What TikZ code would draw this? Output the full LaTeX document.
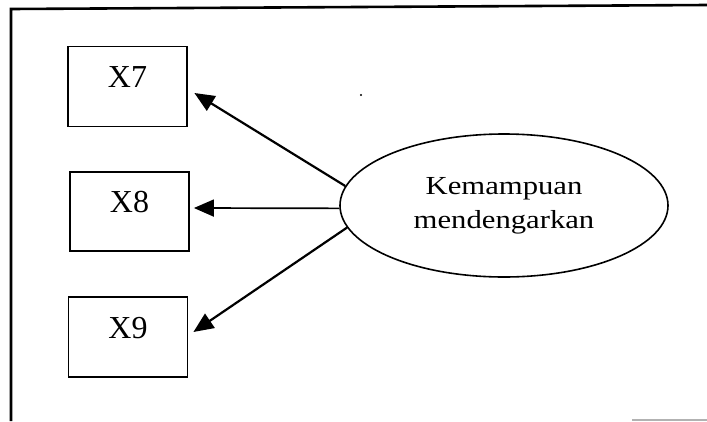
\documentclass[tikz,border=0pt]{standalone}
\usepackage{fontspec}
\setmainfont{Liberation Serif}
\usetikzlibrary{shapes.geometric,arrows.meta}

\tikzset{
  indicator/.style={draw, line width=1.8pt, minimum width=119pt, minimum height=80pt,
    inner sep=0pt, text height=21pt, text depth=19pt, font=\fontsize{32}{36}\selectfont},
  latent/.style={draw, ellipse, line width=1.6pt, minimum width=328pt, minimum height=143pt,
    inner sep=0pt, align=center, font=\fontsize{26}{34}\selectfont},
  loading/.style={line width=2.2pt, -{Triangle[length=20pt,width=17pt]}},
  frame/.style={line width=2.6pt},
}

\newcommand{\wide}[1]{\scalebox{1.18}[1]{#1}}

\begin{document}
\begin{tikzpicture}[x=1pt, y=-1pt]
  \useasboundingbox (0,0) rectangle (707,421);

  % outer frame (left and top edges)
  \draw[frame] (11,421) -- (11,9) -- (707,5);
  \draw[gray!60, line width=1.4pt] (632,420) -- (707,420);
  \fill (361,95) circle (1.2pt);

  % observed indicators
  \node[indicator] (x7) at (127.5,86.5) {X7};
  \node[indicator, minimum height=79pt] (x8) at (129.5,211.5) {X8};
  \node[indicator] (x9) at (128,337) {X9};

  % latent construct
  \node[latent] (km) at (504,205.5) {\wide{Kemampuan}\\ \wide{mendengarkan}};

  % loadings
  \draw[loading] (km.173) -- ([xshift=6.5pt, yshift=-6.5pt]x7.east);
  \draw[loading, line width=1.7pt] (km.181) -- ([xshift=4pt, yshift=3.5pt]x8.east);
  \draw[loading] (km.188) -- ([xshift=5pt, yshift=5pt]x9.east);
\end{tikzpicture}
\end{document}
